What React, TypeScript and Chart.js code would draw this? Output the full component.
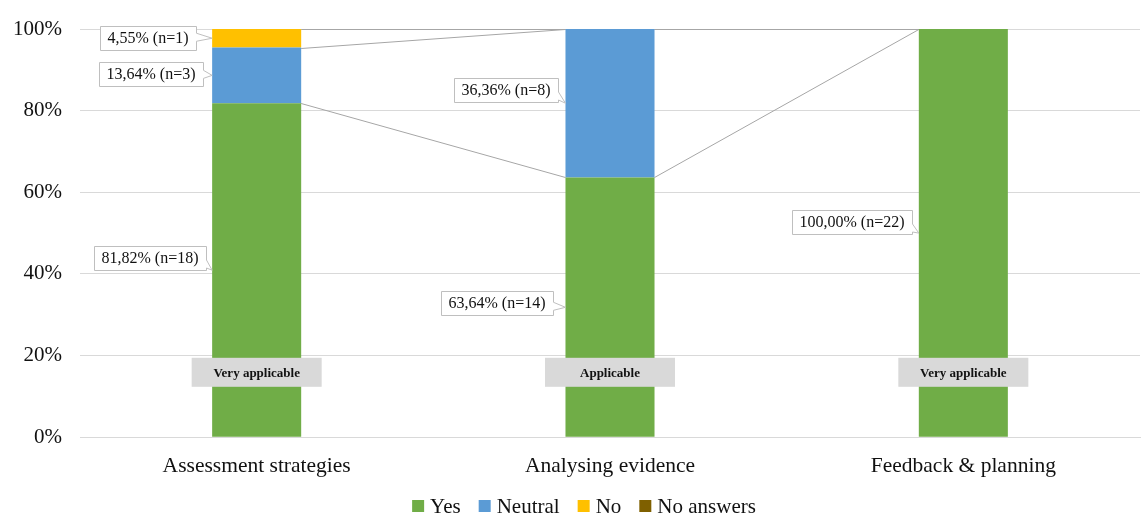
import React, { useEffect, useRef } from "react";
import { Chart, registerables } from "chart.js";

Chart.register(...registerables);

const categories = ["Assessment strategies", "Analysing evidence", "Feedback & planning"];
const seriesNames = ["Yes", "Neutral", "No", "No answers"];
const seriesColors = ["#70AD47", "#5B9BD5", "#FFC000", "#7F6000"];

// percentages per category, one array per answer
const yesPct = [81.82, 63.64, 100.0];
const neutralPct = [13.64, 36.36, 0];
const noPct = [4.55, 0, 0];
const noAnswerPct = [0, 0, 0];

// respondent counts behind each percentage
const yesN = [18, 14, 22];
const neutralN = [3, 8, 0];
const noN = [1, 0, 0];
const noAnswerN = [0, 0, 0];

// applicability verdict shown on each bar
const verdicts = ["Very applicable", "Applicable", "Very applicable"];

const yTicks = [0, 20, 40, 60, 80, 100];

// vertical shift of each callout box relative to its segment centre (px)
const calloutShift = [
  [-12, -1, 0, 0],
  [-4, -13, 0, 0],
  [-11, 0, 0, 0],
];
// horizontal gap between a callout box and its bar (px)
const calloutGap = [
  [6, 9, 16, 0],
  [12, 7, 0, 0],
  [7, 0, 0, 0],
];

const SERIF = "'Liberation Serif', 'Times New Roman', serif";

const fmtPct = (v: number) => v.toFixed(2).replace(".", ",") + "%";

const overlayPlugin = {
  id: "overlay",
  beforeDatasetsDraw(chart: any) {
    // series lines joining segment tops of neighbouring bars
    const ctx = chart.ctx;
    const ys = chart.scales.y;
    ctx.save();
    ctx.strokeStyle = "#a6a6a6";
    ctx.lineWidth = 1;
    const nCat = categories.length;
    chart.data.datasets.forEach((ds: any, di: number) => {
      if (ds.data.every((v: number) => v === 0)) return;
      for (let c = 0; c < nCat - 1; c++) {
        let topA = 0;
        let topB = 0;
        for (let k = 0; k <= di; k++) {
          topA += chart.data.datasets[k].data[c];
          topB += chart.data.datasets[k].data[c + 1];
        }
        const barA = chart.getDatasetMeta(0).data[c];
        const barB = chart.getDatasetMeta(0).data[c + 1];
        const xA = barA.x + barA.width / 2;
        const xB = barB.x - barB.width / 2;
        ctx.beginPath();
        ctx.moveTo(xA, Math.round(ys.getPixelForValue(Math.min(topA, 100))) + 0.5);
        ctx.lineTo(xB, Math.round(ys.getPixelForValue(Math.min(topB, 100))) + 0.5);
        ctx.stroke();
      }
    });
    ctx.restore();
  },
  afterDatasetsDraw(chart: any) {
    const ctx = chart.ctx;
    const ys = chart.scales.y;
    const counts = [yesN, neutralN, noN, noAnswerN];
    ctx.save();

    // verdict tags across each bar
    ctx.font = `bold 13px ${SERIF}`;
    ctx.textAlign = "center";
    ctx.textBaseline = "middle";
    categories.forEach((_, c) => {
      const bar = chart.getDatasetMeta(0).data[c];
      const cy = ys.getPixelForValue(15.9);
      const w = 130;
      const h = 29;
      ctx.fillStyle = "#d9d9d9";
      ctx.fillRect(bar.x - w / 2, cy - h / 2, w, h);
      ctx.fillStyle = "#111";
      ctx.fillText(verdicts[c], bar.x, cy + 1);
    });

    // callout value labels to the left of each segment
    ctx.font = `16px ${SERIF}`;
    chart.data.datasets.forEach((ds: any, di: number) => {
      ds.data.forEach((v: number, c: number) => {
        if (!v) return;
        let base = 0;
        for (let k = 0; k < di; k++) base += chart.data.datasets[k].data[c];
        const bar = chart.getDatasetMeta(di).data[c];
        const tx = bar.x - bar.width / 2;
        const ty = ys.getPixelForValue(base + v / 2);
        const text = `${fmtPct(v)} (n=${counts[di][c]})`;
        const tw = ctx.measureText(text).width;
        const bw = tw + 15;
        const bh = 24;
        const right = Math.round(tx - calloutGap[c][di]);
        const left = right - Math.round(bw);
        const cy = Math.round(ty + calloutShift[c][di]);
        const top = cy - bh / 2;
        const bottom = cy + bh / 2;
        // wedge base on the box's right side
        const wy1 = Math.max(top + 2, Math.min(bottom - 10, ty - 5));
        const wy2 = wy1 + 8;
        ctx.beginPath();
        ctx.moveTo(left + 0.5, top + 0.5);
        ctx.lineTo(right + 0.5, top + 0.5);
        ctx.lineTo(right + 0.5, wy1);
        ctx.lineTo(tx, ty);
        ctx.lineTo(right + 0.5, wy2);
        ctx.lineTo(right + 0.5, bottom + 0.5);
        ctx.lineTo(left + 0.5, bottom + 0.5);
        ctx.closePath();
        ctx.fillStyle = "#ffffff";
        ctx.fill();
        ctx.strokeStyle = "#bfbfbf";
        ctx.lineWidth = 1;
        ctx.stroke();
        ctx.fillStyle = "#111";
        ctx.textAlign = "center";
        ctx.textBaseline = "middle";
        ctx.fillText(text, (left + right) / 2, cy + 1);
      });
    });
    ctx.restore();
  },
  afterDraw(chart: any) {
    // legend row along the bottom
    const ctx = chart.ctx;
    ctx.save();
    ctx.font = `21px ${SERIF}`;
    ctx.textBaseline = "middle";
    ctx.textAlign = "left";
    const box = 12;
    const textGap = 6;
    const itemGap = 18;
    const widths = seriesNames.map((n) => box + textGap + ctx.measureText(n).width);
    const total = widths.reduce((a, b) => a + b, 0) + itemGap * (seriesNames.length - 1);
    let x = chart.width / 2 + 11 - total / 2;
    const cy = 506;
    seriesNames.forEach((name, i) => {
      ctx.fillStyle = seriesColors[i];
      ctx.fillRect(x, cy - box / 2, box, box);
      ctx.fillStyle = "#111";
      ctx.fillText(name, x + box + textGap, cy + 1);
      x += widths[i] + itemGap;
    });
    ctx.restore();
  },
};

export default function App() {
  const canvasRef = useRef<HTMLCanvasElement | null>(null);

  useEffect(() => {
    document.body.style.margin = "0";
    const canvas = canvasRef.current;
    if (!canvas) return;
    const seriesData = [yesPct, neutralPct, noPct, noAnswerPct];
    const chart = new Chart(canvas, {
      type: "bar",
      data: {
        labels: categories,
        datasets: seriesNames.map((name, i) => ({
          label: name,
          data: seriesData[i],
          backgroundColor: seriesColors[i],
          borderWidth: 0,
          barPercentage: 0.252,
          categoryPercentage: 1,
        })),
      },
      options: {
        animation: false,
        responsive: false,
        maintainAspectRatio: false,
        layout: { padding: { top: 29, right: 6, left: 0, bottom: 37 } },
        plugins: {
          tooltip: { enabled: false },
          legend: { display: false },
        },
        scales: {
          x: {
            stacked: true,
            grid: { display: false },
            border: { color: "#d9d9d9" },
            ticks: {
              color: "#111",
              padding: 8,
              font: { family: SERIF, size: 21.5 },
            },
          },
          y: {
            stacked: true,
            min: 0,
            max: 100,
            afterBuildTicks: (scale: any) => {
              scale.ticks = yTicks.map((v) => ({ value: v }));
            },
            afterFit: (scale: any) => {
              scale.width = 80;
              scale.paddingTop = 0;
              scale.paddingBottom = 0;
            },
            grid: { color: "#d9d9d9", drawTicks: false },
            border: { display: false },
            ticks: {
              color: "#111",
              padding: 18,
              font: { family: SERIF, size: 21 },
              callback: (v: any) => `${v}%`,
            },
          },
        },
      },
      plugins: [overlayPlugin],
    });
    return () => chart.destroy();
  }, []);

  return (
    <div style={{ width: 1146, height: 524 }}>
      <canvas ref={canvasRef} width={1146} height={524} style={{ display: "block" }} />
    </div>
  );
}
